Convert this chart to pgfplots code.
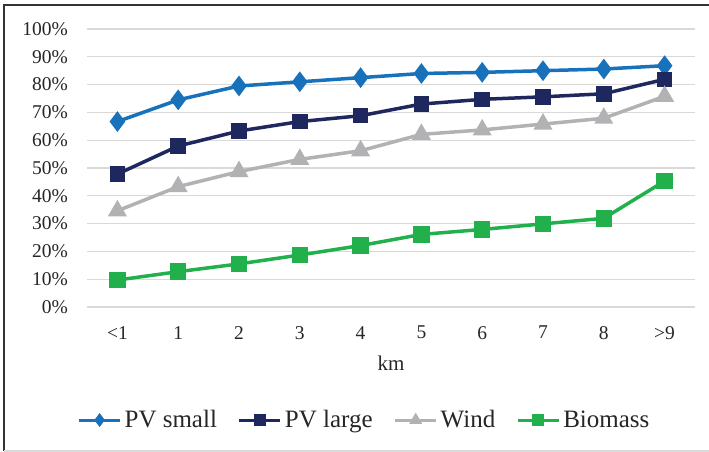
\documentclass[border=0pt]{standalone}
\usepackage{pgfplots}
\pgfplotsset{compat=1.18}
\usepackage{fontspec}
\setmainfont{Liberation Serif}

\definecolor{pvsmall}{RGB}{23,113,187}
\definecolor{pvlarge}{RGB}{30,40,95}
\definecolor{wind}{RGB}{178,178,180}
\definecolor{biomass}{RGB}{33,176,76}
\definecolor{gridgray}{RGB}{217,217,217}
\definecolor{txt}{RGB}{38,38,38}

% share of sites within a given distance (km), per technology
\pgfplotstableread{
x  pvsmall pvlarge wind biomass
0  66.7    47.8    34.6  9.7
1  74.5    57.9    43.3 12.7
2  79.5    63.3    48.7 15.5
3  81.0    66.7    53.1 18.7
4  82.5    68.8    56.2 22.1
5  84.0    73.0    62.1 26.1
6  84.4    74.7    63.7 27.9
7  85.0    75.6    65.8 29.9
8  85.6    76.7    67.9 31.9
9  86.8    81.9    75.8 45.3
}\shares

\begin{document}
\begin{tikzpicture}
\useasboundingbox (0pt,0pt) rectangle (709pt,452pt);
\draw[line width=1.5pt, black!80] (4pt,1pt) -- (4pt,447pt) -- (709pt,447pt);
\draw[line width=1.2pt, gridgray] (4pt,1pt) -- (709pt,1pt);
\begin{axis}[
  at={(87pt,145pt)}, anchor=south west,
  scale only axis, width=608pt, height=278pt,
  xmin=-0.5, xmax=9.5, ymin=0, ymax=100,
  xtick={0,...,9},
  xticklabels={<1,1,2,3,4,5,6,7,8,>9},
  ytick={0,10,...,100},
  yticklabels={0\%,10\%,20\%,30\%,40\%,50\%,60\%,70\%,80\%,90\%,100\%},
  ymajorgrids,
  grid style={gridgray, line width=1.3pt},
  axis line style={draw=none},
  major tick length=0pt,
  tick label style={font=\fontsize{19.5}{22}\selectfont, text=txt},
  yticklabel style={inner sep=0pt, xshift=-19pt},
  xticklabel style={inner sep=0pt, yshift=-19pt},
  xlabel={km},
  xlabel style={font=\fontsize{21}{24}\selectfont, text=txt, at={(axis description cs:0.5,0)}, anchor=center, yshift=-56pt},
  legend columns=4,
  legend style={draw=none, fill=none, at={(0.5,0)}, anchor=center, yshift=-113pt, xshift=-26pt,
    font=\fontsize{25}{29}\selectfont, text=txt,
    nodes={inner xsep=3pt},
    /tikz/every even column/.append style={column sep=18pt}},
  legend image code/.code={\draw[mark repeat=2, mark phase=2, line width=3pt, mark size=4.5pt]
    plot coordinates {(0pt,0pt) (20.5pt,0pt) (41pt,0pt)};},
  every axis plot/.append style={line width=3.5pt},
]
\addplot[pvsmall, mark=diamond*, mark size=7.5pt, mark options={solid}] table[x=x, y=pvsmall] {\shares};
\addlegendentry{PV small}
\addplot[pvlarge, mark=square*, mark size=6pt] table[x=x, y=pvlarge] {\shares};
\addlegendentry{PV large}
\addplot[wind, mark=triangle*, mark size=7.5pt] table[x=x, y=wind] {\shares};
\addlegendentry{Wind}
\addplot[biomass, mark=square*, mark size=6.5pt] table[x=x, y=biomass] {\shares};
\addlegendentry{Biomass}
\end{axis}
\end{tikzpicture}
\end{document}
